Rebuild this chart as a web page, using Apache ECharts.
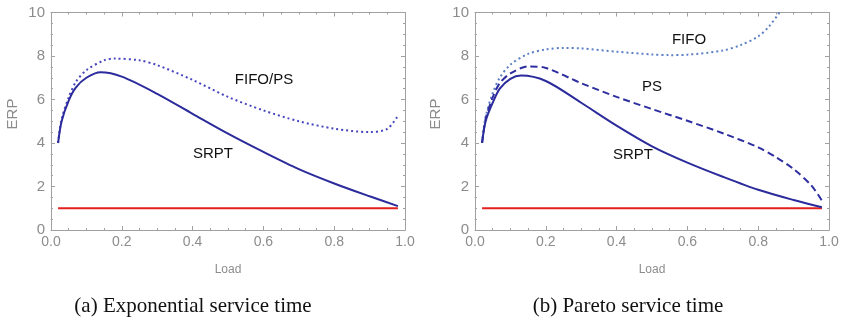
<!DOCTYPE html>
<html><head><meta charset="utf-8">
<script src="https://cdn.jsdelivr.net/npm/echarts@6/dist/echarts.min.js"></script>
<style>html,body{margin:0;padding:0;background:#fff}#c{width:843px;height:327px}</style>
</head><body><div id="c"></div>
<script>
// ---- data (a) Exponential ----
var loadSrptA = [0.02,0.03,0.05,0.07,0.1,0.14,0.2,0.3,0.4,0.5,0.6,0.7,0.8,0.9,0.98];
var srptA     = [4.0,5.0,5.95,6.55,7.0,7.25,7.05,6.26,5.34,4.43,3.59,2.8,2.14,1.55,1.1];
var loadFifoPsA = [0.02,0.03,0.05,0.07,0.1,0.15,0.18,0.25,0.3,0.4,0.5,0.6,0.7,0.8,0.9,0.95,0.98];
var fifoPsA     = [4.0,5.1,6.1,6.8,7.35,7.8,7.88,7.8,7.58,6.9,6.12,5.5,5.0,4.66,4.5,4.65,5.25];
// ---- data (b) Pareto ----
var loadSrptB = [0.02,0.03,0.05,0.07,0.1,0.13,0.2,0.3,0.4,0.5,0.6,0.7,0.8,0.9,0.98];
var srptB     = [4.0,5.0,5.85,6.5,6.95,7.1,6.85,5.85,4.8,3.85,3.1,2.45,1.85,1.38,1.05];
var loadPsB = [0.02,0.03,0.05,0.07,0.1,0.15,0.2,0.3,0.4,0.5,0.6,0.7,0.8,0.85,0.9,0.95,0.98];
var psB     = [4.0,5.1,6.1,6.75,7.2,7.52,7.45,6.75,6.12,5.56,5.02,4.45,3.8,3.35,2.8,2.05,1.35];
var loadFifoB = [0.02,0.03,0.05,0.07,0.1,0.15,0.2,0.25,0.3,0.4,0.5,0.55,0.6,0.7,0.75,0.8,0.83,0.86,0.88];
var fifoB     = [4.0,5.2,6.3,7.0,7.6,8.1,8.3,8.37,8.35,8.2,8.07,8.04,8.06,8.25,8.5,8.9,9.35,10.0,10.5];
// reference line ERP = 1
var loadRef = [0.02,0.98];
var refVal  = [1,1];
// axis ticks
var xMin = 0, xMax = 1, xStep = 0.2;
var yMin = 0, yMax = 10, yStep = 2;

function pairs(xs, ys){ return xs.map(function(x,i){ return [x, ys[i]]; }); }

var gray = '#a0a0a0';
var labelGray = '#8c8c8c';
function xAx(gi, pos, labels){
  return {type:'value', gridIndex:gi, position:pos, min:xMin, max:xMax, interval:xStep,
    axisLine:{show:true, onZero:false, lineStyle:{color:gray, width:1}},
    axisTick:{show:true, inside:true, length:4, lineStyle:{color:gray}},
    minorTick:{show:true, splitNumber:4, length:2, lineStyle:{color:gray}},
    splitLine:{show:false},
    axisLabel:{show:labels, color:labelGray, fontFamily:'Liberation Sans', fontSize:14, margin:5,
      formatter:function(v){return v.toFixed(1);}}};
}
function yAx(gi, pos, labels){
  return {type:'value', gridIndex:gi, position:pos, min:yMin, max:yMax, interval:yStep,
    axisLine:{show:true, onZero:false, lineStyle:{color:gray, width:1}},
    axisTick:{show:true, inside:true, length:4, lineStyle:{color:gray}},
    minorTick:{show:true, splitNumber:4, length:2, lineStyle:{color:gray}},
    splitLine:{show:false},
    axisLabel:{show:labels, color:labelGray, fontFamily:'Liberation Sans', fontSize:15, margin:6}};
}
function line(xi, yi, data, color, type, width){
  return {type:'line', xAxisIndex:xi, yAxisIndex:yi, data:data, smooth:0.3, symbol:'none',
    clip:true, lineStyle:{color:color, width:width, type:type}, silent:true, animation:false};
}
var chart = echarts.init(document.getElementById('c'), null, {renderer:'canvas'});
var txt = function(x,y,t,opt,extra){ return Object.assign({type:'text', x:x, y:y, style:Object.assign({text:t, fill:'#111',
  font:'15px "Liberation Sans"', textAlign:'center', textVerticalAlign:'middle'}, opt||{})}, extra||{}); };
chart.setOption({
  animation:false,
  grid:[{left:51, top:12.5, width:354, height:217.5},{left:475, top:12.5, width:354, height:217.5}],
  xAxis:[xAx(0,'bottom',true), xAx(0,'top',false), xAx(1,'bottom',true), xAx(1,'top',false)],
  yAxis:[yAx(0,'left',true), yAx(0,'right',false), yAx(1,'left',true), yAx(1,'right',false)],
  series:[
    line(0,0,pairs(loadRef,refVal),'#e3211c','solid',2),
    line(0,0,pairs(loadFifoPsA,fifoPsA),'#4646c0',[2,3],2),
    line(0,0,pairs(loadSrptA,srptA),'#2b2b9c','solid',2),
    line(1,1,[],'#000','solid',1),
    line(2,2,pairs(loadRef,refVal),'#e3211c','solid',2),
    line(2,2,pairs(loadFifoB,fifoB),'#5b7fc4',[2,3],2),
    line(2,2,pairs(loadPsB,psB),'#2e2ea0',[7,4],2),
    line(2,2,pairs(loadSrptB,srptB),'#2b2b9c','solid',2),
    line(3,3,[],'#000','solid',1)
  ],
  graphic:[
    txt(13,114,'ERP',{fill:labelGray, font:'15px "Liberation Sans"'},{rotation:Math.PI/2}),
    txt(436,114,'ERP',{fill:labelGray, font:'15px "Liberation Sans"'},{rotation:Math.PI/2}),
    txt(228,270,'Load',{fill:labelGray, font:'12px "Liberation Sans Narrow", "Liberation Sans"'}),
    txt(652,270,'Load',{fill:labelGray, font:'12px "Liberation Sans Narrow", "Liberation Sans"'}),
    txt(264,80,'FIFO/PS'),
    txt(213,154,'SRPT'),
    txt(689,40,'FIFO'),
    txt(652,87,'PS'),
    txt(633,155,'SRPT'),
    txt(193,306,'(a) Exponential service time',{font:'21px "Liberation Serif"'}),
    txt(628,306,'(b) Pareto service time',{font:'21px "Liberation Serif"'})
  ]
});
</script>
</body></html>
